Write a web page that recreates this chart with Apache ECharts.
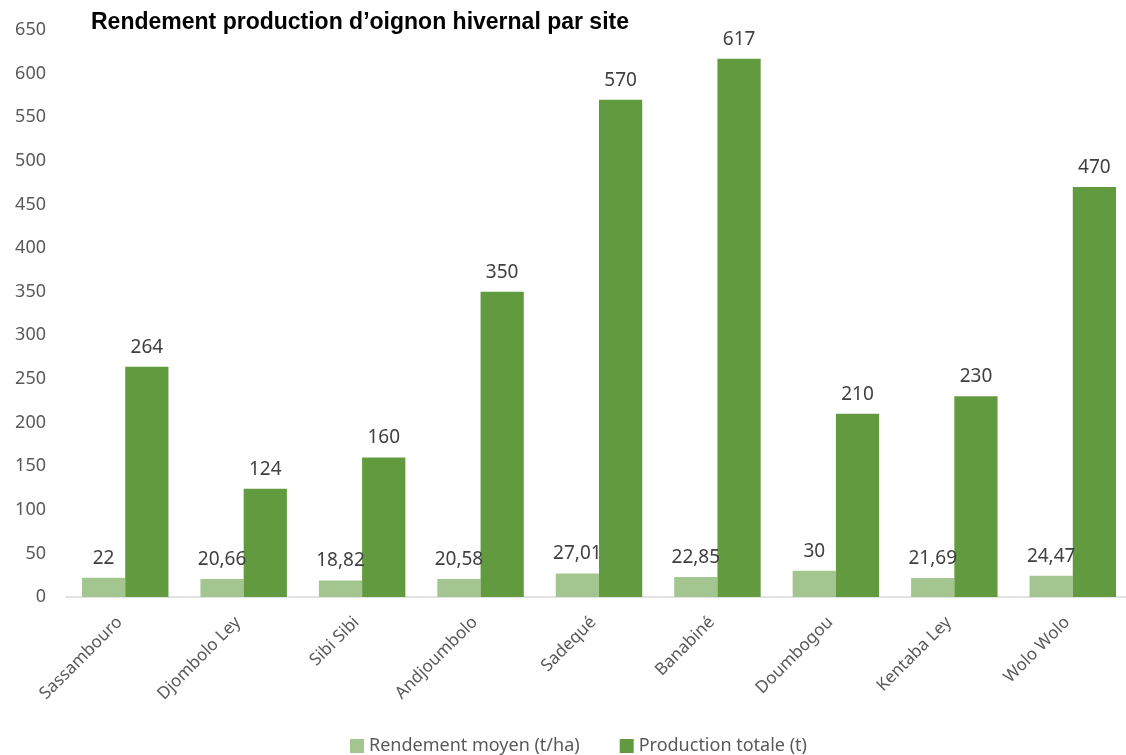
<!DOCTYPE html>
<html>
<head>
<meta charset="utf-8">
<script src="https://cdn.jsdelivr.net/npm/echarts@6/dist/echarts.min.js"></script>
<style>
  html, body { margin: 0; padding: 0; background: #fff; }
  #chart { width: 1126px; height: 755px; }
</style>
</head>
<body>
<div id="chart"></div>
<script>
// sites and values
var sites = ['Sassambouro', 'Djombolo Ley', 'Sibi Sibi', 'Andjoumbolo', 'Sadequé', 'Banabiné', 'Doumbogou', 'Kentaba Ley', 'Wolo Wolo'];
var rendement = [22, 20.66, 18.82, 20.58, 27.01, 22.85, 30, 21.69, 24.47];
var production = [264, 124, 160, 350, 570, 617, 210, 230, 470];

var font = 'Noto Sans';

function frNum(p) {
    return String(p.value).replace('.', ',');
}

var myChart = echarts.init(document.getElementById('chart'));
myChart.setOption({
    animation: false,
    title: {
        text: 'Rendement production d\u2019oignon hivernal par site',
        left: 86,
        top: 6,
        textStyle: { fontFamily: 'Liberation Sans', fontSize: 23, fontWeight: 'bold', color: '#000' }
    },
    legend: {
        top: 732,
        left: 345,
        itemWidth: 14,
        itemHeight: 14,
        itemGap: 40,
        icon: 'rect',
        textStyle: { fontFamily: font, fontSize: 18, color: '#595959' },
        data: ['Rendement moyen (t/ha)', 'Production totale (t)']
    },
    grid: { left: 66, width: 1066, top: 30, bottom: 158, outerBoundsMode: 'none' },
    xAxis: {
        type: 'category',
        data: sites,
        axisLine: { lineStyle: { color: '#d9d9d9', width: 1.5 } },
        axisTick: { show: false },
        axisLabel: { rotate: 45, interval: 0, fontFamily: font, fontSize: 17, color: '#595959', margin: 17, padding: [0, 8, 0, 0] }
    },
    yAxis: {
        type: 'value',
        min: 0,
        max: 650,
        interval: 50,
        splitLine: { show: false },
        axisLine: { show: false },
        axisTick: { show: false },
        axisLabel: { fontFamily: font, fontSize: 18, color: '#595959', margin: 20 }
    },
    series: [
        {
            name: 'Rendement moyen (t/ha)',
            type: 'bar',
            data: rendement,
            barGap: '0%',
            barCategoryGap: '27%',
            itemStyle: { color: '#a3c690' },
            label: { show: true, position: 'top', distance: 10, formatter: frNum, fontFamily: font, fontSize: 19, color: '#404040' }
        },
        {
            name: 'Production totale (t)',
            type: 'bar',
            data: production,
            itemStyle: { color: '#629b3f' },
            label: { show: true, position: 'top', distance: 10, formatter: frNum, fontFamily: font, fontSize: 19, color: '#404040' }
        }
    ]
});
</script>
</body>
</html>
